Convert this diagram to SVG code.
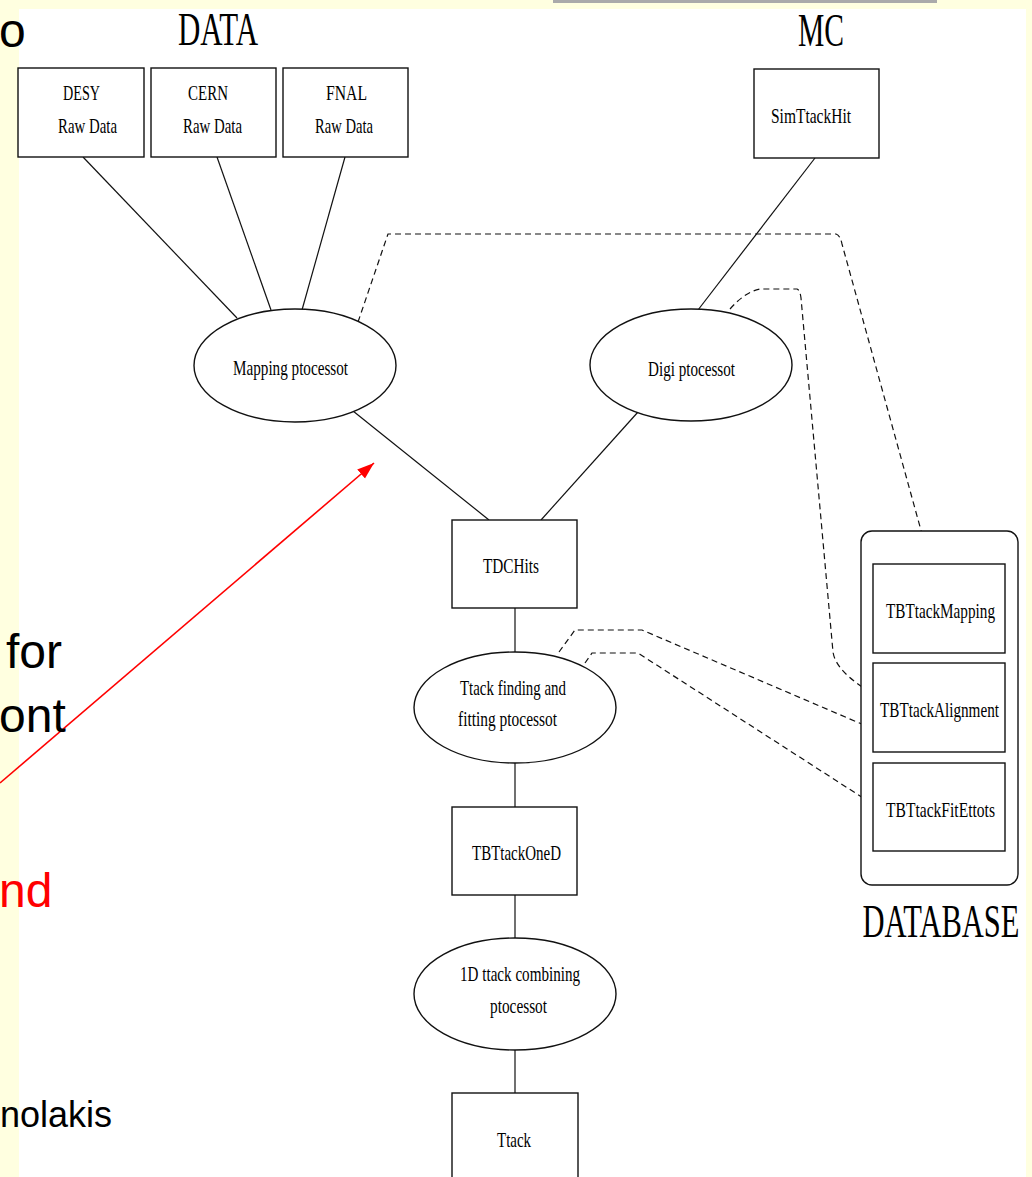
<svg xmlns="http://www.w3.org/2000/svg" width="1032" height="1177" viewBox="0 0 1032 1177">
<style>
.bx{fill:#fff;stroke:#111;stroke-width:1.4}
.el{fill:#fff;stroke:#111;stroke-width:1.4}
.ln{fill:none;stroke:#111;stroke-width:1.2}
.ds{fill:none;stroke:#111;stroke-width:1.2;stroke-dasharray:6 4}
.t{font-family:"Liberation Serif","Times New Roman",serif;font-size:15px;fill:#000;text-anchor:middle}
.h{font-family:"Liberation Serif","Times New Roman",serif;font-size:29px;fill:#000;text-anchor:middle}
.s{font-family:"Liberation Sans",Arial,sans-serif;fill:#000}
</style>
<defs>
<marker id="ah" markerUnits="userSpaceOnUse" markerWidth="18" markerHeight="14" refX="17" refY="6" orient="auto">
<path d="M0,0 L17,6 L0,12 z" fill="#f00"/>
</marker>
</defs>
<rect x="0" y="0" width="1032" height="1177" fill="#FFFFE0"/>
<rect x="553" y="0" width="384" height="3" fill="#AAAAAA"/>
<rect x="19" y="9" width="1007" height="1168" fill="#fff"/>

<g id="titles">
<text class="h" transform="translate(218,45) scale(1,1.62)" textLength="80" lengthAdjust="spacingAndGlyphs">DATA</text>
<text class="h" transform="translate(821,46) scale(1,1.62)" textLength="46" lengthAdjust="spacingAndGlyphs">MC</text>
<text class="h" transform="translate(941,937) scale(1,1.62)" textLength="157" lengthAdjust="spacingAndGlyphs">DATABASE</text>
</g>

<g id="connectors">
<line class="ln" x1="83" y1="157" x2="237" y2="318"/>
<line class="ln" x1="217" y1="157" x2="271" y2="310"/>
<line class="ln" x1="345" y1="157" x2="302" y2="310"/>
<line class="ln" x1="815" y1="158" x2="698" y2="310"/>
<line class="ln" x1="353" y1="411" x2="489" y2="520"/>
<line class="ln" x1="638" y1="412" x2="541" y2="520"/>
<line class="ln" x1="515" y1="608" x2="515" y2="652"/>
<line class="ln" x1="515" y1="763" x2="515" y2="807"/>
<line class="ln" x1="515" y1="895" x2="515" y2="938"/>
<line class="ln" x1="515" y1="1050" x2="515" y2="1093"/>
<path class="ds" d="M358,322 L388,234 L836,234 Q840,235 842,244 L930,563"/>
<path class="ds" d="M730,309 Q745,292 760,289 L797,289 Q800,290 801,298 L833,652 Q836,672 872,693"/>
<path class="ds" d="M559,652 L575,630 L642,630 L871,728"/>
<path class="ds" d="M585,663 L592,653 L638,653 L871,803"/>
<line x1="0" y1="783" x2="374" y2="463" stroke="#f00" stroke-width="1.6" marker-end="url(#ah)"/>
</g>

<g id="desy"><rect class="bx" x="18" y="68" width="126" height="89"/>
<text class="t" transform="translate(81.5,100) scale(1,1.4)" textLength="37" lengthAdjust="spacingAndGlyphs">DESY</text>
<text class="t" transform="translate(87.5,133) scale(1,1.4)" textLength="59" lengthAdjust="spacingAndGlyphs">Raw Data</text></g>

<g id="cern"><rect class="bx" x="151" y="68" width="125" height="89"/>
<text class="t" transform="translate(208,100) scale(1,1.4)" textLength="40" lengthAdjust="spacingAndGlyphs">CERN</text>
<text class="t" transform="translate(212.5,133) scale(1,1.4)" textLength="59" lengthAdjust="spacingAndGlyphs">Raw Data</text></g>

<g id="fnal"><rect class="bx" x="283" y="68" width="125" height="89"/>
<text class="t" transform="translate(346.5,100) scale(1,1.4)" textLength="41" lengthAdjust="spacingAndGlyphs">FNAL</text>
<text class="t" transform="translate(344,133) scale(1,1.4)" textLength="58" lengthAdjust="spacingAndGlyphs">Raw Data</text></g>

<g id="simtrackhit"><rect class="bx" x="754" y="69" width="125" height="89"/>
<text class="t" transform="translate(811,123) scale(1,1.4)" textLength="80" lengthAdjust="spacingAndGlyphs">SimTtackHit</text></g>

<g id="mapping"><ellipse class="el" cx="295" cy="365.5" rx="101" ry="56.5"/>
<text class="t" transform="translate(290.5,375) scale(1,1.4)" textLength="115" lengthAdjust="spacingAndGlyphs">Mapping ptocessot</text></g>

<g id="digi"><ellipse class="el" cx="691" cy="365" rx="101" ry="56"/>
<text class="t" transform="translate(691.5,376) scale(1,1.4)" textLength="87" lengthAdjust="spacingAndGlyphs">Digi ptocessot</text></g>

<g id="tdchits"><rect class="bx" x="452" y="520" width="125" height="88"/>
<text class="t" transform="translate(511,573) scale(1,1.4)" textLength="56" lengthAdjust="spacingAndGlyphs">TDCHits</text></g>

<g id="trackfinding"><ellipse class="el" cx="515" cy="707.5" rx="101" ry="55.5"/>
<text class="t" transform="translate(513,695) scale(1,1.4)" textLength="106" lengthAdjust="spacingAndGlyphs">Ttack finding and</text>
<text class="t" transform="translate(507.5,726) scale(1,1.4)" textLength="99" lengthAdjust="spacingAndGlyphs">fitting ptocessot</text></g>

<g id="tbtrackoned"><rect class="bx" x="452" y="807" width="125" height="88"/>
<text class="t" transform="translate(516.5,860) scale(1,1.4)" textLength="89" lengthAdjust="spacingAndGlyphs">TBTtackOneD</text></g>

<g id="combining"><ellipse class="el" cx="515" cy="994" rx="101" ry="56"/>
<text class="t" transform="translate(520,981) scale(1,1.4)" textLength="120" lengthAdjust="spacingAndGlyphs">1D ttack combining</text>
<text class="t" transform="translate(518.5,1013) scale(1,1.4)" textLength="57" lengthAdjust="spacingAndGlyphs">ptocessot</text></g>

<g id="track"><rect class="bx" x="452" y="1093" width="126" height="100"/>
<text class="t" transform="translate(514,1147) scale(1,1.4)" textLength="34" lengthAdjust="spacingAndGlyphs">Ttack</text></g>

<g id="database"><rect class="bx" x="861" y="531" width="157" height="354" rx="11" ry="11"/>
<g id="tbtrackmapping"><rect class="bx" x="873" y="564" width="132" height="89"/>
<text class="t" transform="translate(940.5,618) scale(1,1.4)" textLength="109" lengthAdjust="spacingAndGlyphs">TBTtackMapping</text></g>
<g id="tbtrackalignment"><rect class="bx" x="873" y="663" width="132" height="89"/>
<text class="t" transform="translate(939.5,717) scale(1,1.4)" textLength="119" lengthAdjust="spacingAndGlyphs">TBTtackAlignment</text></g>
<g id="tbtrackfiterrors"><rect class="bx" x="873" y="763" width="132" height="88"/>
<text class="t" transform="translate(940.5,817) scale(1,1.4)" textLength="109" lengthAdjust="spacingAndGlyphs">TBTtackFitEttots</text></g>
</g>

<g id="slide-text">
<text class="s" x="-1" y="47" font-size="48">o</text>
<text class="s" x="6" y="668" font-size="48">for</text>
<text class="s" x="-1" y="732" font-size="48">ont</text>
<text class="s" x="-1" y="907" font-size="48" style="fill:#f00">nd</text>
<text class="s" x="0" y="1127" font-size="36">nolakis</text>
</g>
</svg>
